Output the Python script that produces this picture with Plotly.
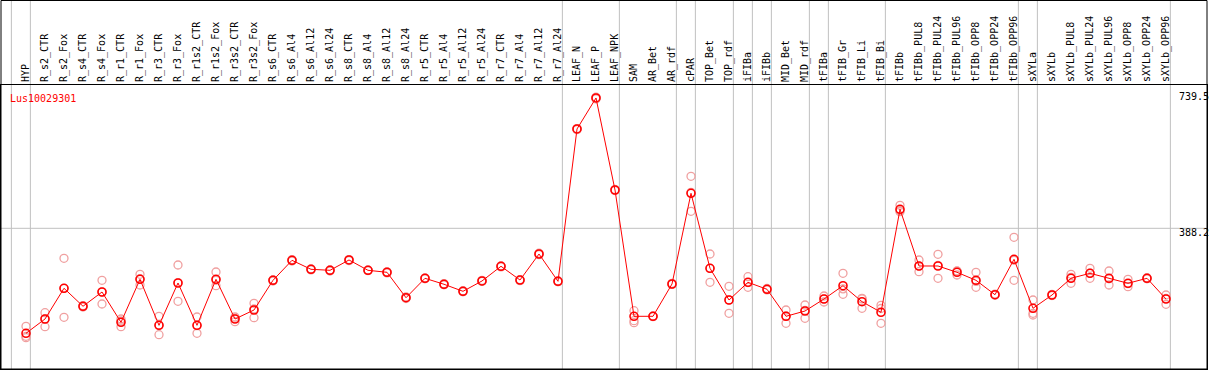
import plotly.graph_objects as go

gene_id = "Lus10029301"

categories = [
    "HYP", "R_s2_CTR", "R_s2_Fox", "R_s4_CTR", "R_s4_Fox", "R_r1_CTR", "R_r1_Fox",
    "R_r3_CTR", "R_r3_Fox", "R_r1s2_CTR", "R_r1s2_Fox", "R_r3s2_CTR", "R_r3s2_Fox",
    "R_s6_CTR", "R_s6_Al4", "R_s6_Al12", "R_s6_Al24", "R_s8_CTR", "R_s8_Al4",
    "R_s8_Al12", "R_s8_Al24", "R_r5_CTR", "R_r5_Al4", "R_r5_Al12", "R_r5_Al24",
    "R_r7_CTR", "R_r7_Al4", "R_r7_Al12", "R_r7_Al24", "LEAF_N", "LEAF_P", "LEAF_NPK",
    "SAM", "AR_Bet", "AR_rdf", "cPAR", "TOP_Bet", "TOP_rdf", "iFIBa", "iFIBb",
    "MID_Bet", "MID_rdf", "tFIBa", "tFIB_Gr", "tFIB_Li", "tFIB_Bi", "tFIBb",
    "tFIBb_PUL8", "tFIBb_PUL24", "tFIBb_PUL96", "tFIBb_OPP8", "tFIBb_OPP24",
    "tFIBb_OPP96", "sXYLa", "sXYLb", "sXYLb_PUL8", "sXYLb_PUL24", "sXYLb_PUL96",
    "sXYLb_OPP8", "sXYLb_OPP24", "sXYLb_OPP96",
]

mean_values = [
    105.2, 143.7, 226.5, 178.0, 216.5, 134.8, 250.7, 126.7, 240.8, 126.7, 250.7,
    143.7, 168.0, 248.0, 301.9, 277.7, 275.0, 302.8, 275.0, 269.6, 201.1, 253.4,
    237.3, 218.4, 246.2, 285.8, 248.8, 318.9, 245.3, 655.9, 739.5, 491.4, 151.0,
    151.0, 238.1, 482.5, 280.4, 194.9, 242.6, 223.8, 151.0, 165.3, 197.6, 233.5,
    190.4, 161.8, 439.4, 286.6, 286.6, 269.6, 248.0, 209.2, 304.6, 172.6, 208.4,
    253.4, 266.9, 253.4, 240.0, 253.4, 197.6,
]

replicate_values = [
    [124.1, 97.1, 93.3], [160.7, 123.0, 143.7], [307.3, 148.3, 226.5],
    [176.0, 178.0, 180.0], [248.0, 184.2, 216.5], [143.7, 123.0, 138.3],
    [264.2, 235.4, 252.4], [151.0, 101.4, 127.6], [289.3, 191.4, 241.6],
    [149.1, 105.2, 125.7], [270.4, 233.5, 248.0], [149.1, 136.4, 145.6],
    [186.0, 147.2, 170.7], [246.0, 249.0, 249.0], [300.0, 302.0, 304.0],
    [276.0, 278.0, 279.0], [273.0, 276.0, 276.0], [301.0, 303.0, 304.0],
    [274.0, 275.0, 276.0], [268.0, 270.0, 271.0], [199.0, 201.0, 203.0],
    [252.0, 254.0, 254.0], [236.0, 237.0, 239.0], [217.0, 218.0, 220.0],
    [245.0, 246.0, 248.0], [284.0, 286.0, 287.0], [247.0, 249.0, 250.0],
    [317.0, 319.0, 321.0], [244.0, 245.0, 247.0], [654.0, 656.0, 657.0],
    [737.0, 740.0, 741.5], [490.0, 491.0, 493.0], [166.1, 139.1, 133.8],
    [150.0, 151.0, 152.0], [237.0, 238.0, 240.0], [528.4, 434.0, 485.0],
    [318.9, 242.6, 280.0], [231.9, 159.1, 195.0], [257.7, 229.2, 242.0],
    [222.0, 224.0, 226.0], [168.0, 132.1, 152.0], [181.5, 145.6, 167.0],
    [205.7, 189.6, 198.0], [266.9, 210.3, 225.0], [199.5, 172.6, 198.0],
    [180.7, 132.1, 172.0], [450.2, 432.9, 436.0], [302.8, 271.2, 286.0],
    [318.1, 253.4, 288.0], [273.1, 262.3, 273.0], [269.6, 229.2, 245.0],
    [208.0, 209.0, 211.0], [363.9, 248.0, 302.0], [194.9, 159.1, 154.5],
    [207.0, 208.0, 210.0], [264.2, 240.0, 256.0], [280.4, 253.4, 267.0],
    [273.1, 235.4, 252.0], [250.7, 230.8, 239.0], [252.0, 253.0, 255.0],
    [208.4, 183.3, 199.0],
]

# index of the last category in each group (separators drawn after them)
group_ends = [-1, 0, 28, 31, 34, 35, 37, 38, 39, 41, 42, 45, 52, 53, 60]

y_tick_labels = ["739.5", "388.2", "0"]
y_tick_values = [739.5, 388.2, 0.0]
y_label_shift = [-6, 0, 13]

W, H = 1209, 370
ML, MR, MT, MB = 1, 2, 85, 1
plot_w = W - ML - MR
plot_h = H - MT - MB

x_idx = list(range(len(categories)))
rep_x, rep_y = [], []
for i, reps in enumerate(replicate_values):
    for v in reps:
        rep_x.append(i)
        rep_y.append(v)

MONO = "DejaVu Sans Mono"

fig = go.Figure()
fig.add_trace(go.Scatter(
    x=rep_x, y=rep_y, mode="markers",
    marker=dict(symbol="circle-open", size=8, color="#f0a0a0", line=dict(width=1.3)),
    hoverinfo="skip", showlegend=False, cliponaxis=False,
))
fig.add_trace(go.Scatter(
    x=x_idx, y=mean_values, mode="lines+markers",
    line=dict(color="#ff0000", width=1),
    marker=dict(symbol="circle-open", size=8, color="#ff0000", line=dict(width=1.6)),
    showlegend=False, cliponaxis=False,
))

shapes = []
for g in group_ends:
    shapes.append(dict(type="line", xref="x", yref="paper", x0=g + 0.23, x1=g + 0.23,
                       y0=0, y1=1 + MT / plot_h, layer="below",
                       line=dict(color="#c0c0c0", width=1)))
shapes.append(dict(type="line", xref="paper", yref="y", x0=0, x1=1, y0=388.2, y1=388.2,
                   layer="below", line=dict(color="#c0c0c0", width=1)))
# outer frame
top = 1 + (MT - 0.5) / plot_h
shapes.append(dict(type="rect", xref="paper", yref="paper", x0=0, x1=1, y0=0, y1=top,
                   line=dict(color="black", width=1), layer="above"))
fig.update_layout(shapes=shapes)

annotations = [dict(text=gene_id, xref="paper", yref="paper",
                    x=(8.5 - ML) / plot_w, y=1 - (92 - MT) / plot_h,
                    xanchor="left", yanchor="top", showarrow=False,
                    font=dict(family=MONO, size=10, color="#ff0000"), borderpad=0)]
for lab, val, sh in zip(y_tick_labels, y_tick_values, y_label_shift):
    annotations.append(dict(text=lab, xref="paper", yref="y",
                            x=(1178 - ML) / plot_w, y=val, yshift=-sh + 2,
                            xanchor="left", yanchor="top", showarrow=False,
                            font=dict(family=MONO, size=10, color="black"), borderpad=0))
fig.update_layout(annotations=annotations)

k = 19.0
x0 = -(26 - ML) / k
x1 = x0 + plot_w / k
y_scale = 0.371
y_top = 388.2 + (228.3 - MT) / y_scale
y_bot = 388.2 - (H - MB - 228.3) / y_scale

fig.update_layout(
    width=W, height=H,
    margin=dict(l=ML, r=MR, t=MT, b=MB, pad=0, autoexpand=False),
    paper_bgcolor="white", plot_bgcolor="white",
    xaxis=dict(
        range=[x0, x1], side="top", tickmode="array", tickvals=x_idx, ticktext=categories,
        tickangle=-90, ticks="", showgrid=False, zeroline=False, automargin=False,
        showline=True, linecolor="black", linewidth=1, mirror=True,
        tickfont=dict(family=MONO, size=10, color="black"), ticklabelstandoff=0,
    ),
    yaxis=dict(
        range=[y_bot, y_top], showticklabels=False, ticks="", showgrid=False,
        zeroline=False, showline=True, linecolor="black", linewidth=1, mirror=True,
        automargin=False,
    ),
)

fig.write_html(
    "out.html",
    config={"displayModeBar": False},
    post_script="document.body.style.margin='0';document.body.style.padding='0';",
)
